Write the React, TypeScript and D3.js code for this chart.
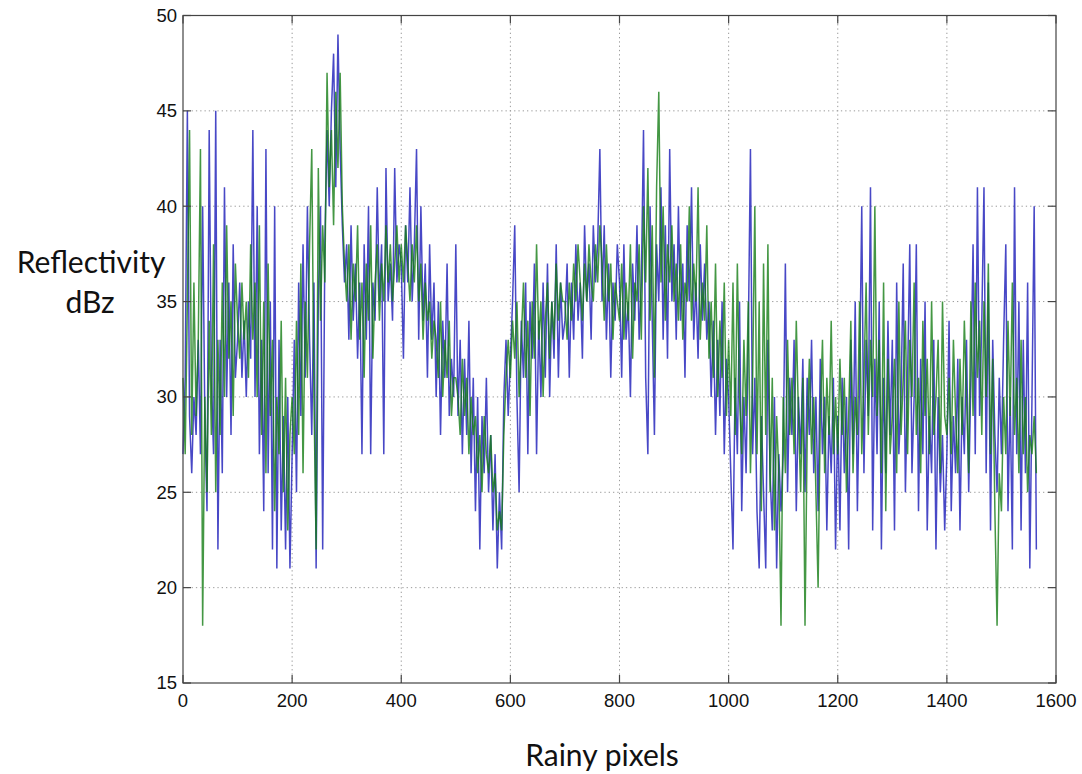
import React from 'react';
import * as d3 from 'd3';

// reflectivity samples, one every 4 rainy pixels (0, 4, 8, ... 1564)
const blueDbz = [
  27, 31, 45, 29, 26, 30, 28, 33, 27, 40, 29, 24, 44, 31, 27, 45, 22, 33, 26, 41, 30, 36, 28, 38, 31,
  33, 36, 31, 34, 30, 35, 32, 44, 30, 40, 27, 33, 24, 43, 26, 35, 22, 40, 21, 33, 23, 29, 22, 30, 21,
  27, 33, 25, 36, 29, 38, 31, 40, 33, 28, 36, 21, 35, 40, 22, 38, 44, 40, 45, 48, 41, 49, 43, 39, 36,
  38, 33, 39, 34, 37, 32, 36, 27, 38, 33, 40, 27, 36, 34, 41, 35, 38, 27, 42, 35, 37, 34, 42, 36, 38,
  37, 32, 39, 36, 41, 35, 38, 43, 33, 40, 34, 37, 31, 38, 33, 36, 30, 35, 28, 34, 31, 37, 29, 32, 30,
  38, 29, 33, 27, 32, 28, 34, 26, 31, 24, 30, 22, 29, 26, 31, 25, 28, 23, 27, 21, 25, 22, 30, 33, 29,
  32, 35, 39, 30, 25, 34, 31, 36, 27, 35, 32, 37, 27, 34, 30, 36, 31, 37, 30, 35, 32, 38, 31, 36, 33,
  34, 37, 31, 36, 33, 38, 34, 36, 32, 39, 35, 37, 33, 39, 36, 38, 43, 35, 39, 33, 37, 31, 36, 34, 38,
  36, 31, 38, 33, 35, 30, 37, 34, 39, 33, 36, 44, 31, 27, 40, 34, 28, 38, 35, 41, 33, 39, 32, 43, 35,
  38, 33, 40, 34, 37, 31, 39, 35, 41, 33, 36, 32, 38, 34, 37, 33, 35, 30, 34, 28, 33, 29, 35, 27, 32,
  30, 26, 22, 31, 27, 35, 24, 30, 26, 33, 43, 27, 31, 24, 21, 29, 25, 21, 33, 26, 23, 30, 21, 27, 24,
  27, 37, 25, 31, 28, 33, 24, 30, 27, 32, 25, 31, 28, 33, 26, 30, 24, 32, 27, 30, 23, 29, 26, 31, 22,
  29, 23, 31, 26, 30, 22, 33, 27, 35, 24, 31, 40, 26, 33, 29, 41, 23, 32, 27, 35, 22, 31, 26, 34, 28,
  33, 23, 36, 27, 30, 37, 25, 31, 38, 26, 30, 38, 24, 32, 27, 35, 23, 29, 26, 33, 22, 30, 25, 28, 23,
  27, 34, 24, 29, 26, 32, 23, 30, 27, 33, 25, 31, 38, 27, 41, 29, 34, 41, 26, 36, 23, 33, 28, 25, 31,
  27, 33, 38, 24, 30, 22, 41, 27, 35, 23, 33, 26, 36, 21, 30, 40, 22,
];

const greenDbz = [
  31, 27, 35, 44, 28, 36, 29, 33, 43, 18, 30, 25, 34, 28, 38, 25, 33, 28, 36, 30, 39, 32, 35, 29, 37,
  34, 32, 36, 33, 35, 31, 38, 33, 36, 30, 39, 28, 35, 26, 37, 29, 33, 24, 30, 27, 34, 25, 31, 23, 28,
  30, 27, 34, 28, 37, 26, 35, 31, 38, 43, 30, 22, 42, 34, 39, 36, 47, 41, 44, 39, 46, 42, 47, 40, 37,
  35, 38, 33, 37, 35, 39, 33, 36, 31, 37, 34, 39, 32, 36, 38, 34, 37, 35, 39, 36, 38, 35, 37, 39, 36,
  38, 36, 39, 37, 35, 38, 36, 39, 35, 37, 33, 36, 34, 35, 32, 34, 33, 31, 35, 30, 33, 31, 34, 29, 31,
  31, 30, 28, 32, 29, 31, 27, 30, 28, 29, 26, 28, 25, 29, 27, 26, 28, 25, 26, 23, 24, 23, 28, 31, 33,
  31, 34, 32, 35, 30, 33, 36, 31, 34, 29, 35, 32, 38, 33, 35, 30, 34, 36, 32, 35, 33, 37, 34, 36, 35,
  35, 33, 36, 34, 37, 35, 38, 36, 34, 37, 35, 38, 36, 35, 38, 36, 39, 37, 34, 38, 35, 37, 33, 36, 35,
  34, 37, 33, 36, 34, 38, 32, 36, 35, 38, 33, 40, 36, 42, 34, 39, 31, 41, 46, 36, 40, 34, 38, 36, 39,
  35, 37, 34, 38, 33, 36, 35, 40, 34, 37, 35, 41, 33, 36, 34, 39, 32, 35, 31, 37, 30, 34, 31, 36, 29,
  33, 29, 36, 28, 37, 30, 27, 33, 29, 35, 26, 31, 40, 27, 35, 24, 37, 28, 38, 25, 31, 23, 29, 26, 18,
  30, 26, 33, 28, 31, 27, 34, 29, 25, 31, 18, 28, 32, 27, 30, 25, 20, 29, 33, 26, 31, 28, 34, 27, 30,
  27, 32, 28, 31, 25, 29, 34, 26, 30, 28, 35, 27, 31, 36, 28, 33, 30, 40, 29, 33, 26, 36, 24, 32, 27,
  29, 32, 26, 35, 28, 31, 34, 27, 33, 30, 36, 28, 31, 26, 34, 29, 32, 27, 35, 28, 30, 33, 26, 35, 29,
  28, 31, 27, 33, 29, 26, 32, 28, 34, 30, 26, 35, 29, 36, 31, 34, 28, 35, 30, 37, 27, 32, 24, 18, 26,
  24, 30, 27, 34, 29, 36, 28, 31, 26, 33, 27, 30, 25, 28, 27, 29, 26,
];

const pixelStep = 4;
const xTicks = [0, 200, 400, 600, 800, 1000, 1200, 1400, 1600];
const yTicks = [15, 20, 25, 30, 35, 40, 45, 50];

const left = 183;
const right = 1056;
const top = 15.5;
const bottom = 683;

export default function App() {
  const x = d3.scaleLinear().domain([0, 1600]).range([left, right]);
  const y = d3.scaleLinear().domain([15, 50]).range([bottom, top]);

  const line = d3.line<number>()
    .x((_, i) => x(i * pixelStep))
    .y(d => y(d));

  const tickLen = 8;
  const axisColor = '#444';
  const tickFont = '"Liberation Sans", Arial, sans-serif';
  const titleFont = 'Lato, "Open Sans", sans-serif';

  return (
    <svg width={1082} height={774} style={{ display: 'block', position: 'absolute', left: 0, top: 0 }}>
      <rect width={1082} height={774} fill="#fff" />

      {/* grid */}
      <g stroke="#9a9a9a" strokeWidth={1} strokeDasharray="1.3,3">
        {xTicks.slice(1, -1).map(t => (
          <line key={'gx' + t} x1={x(t)} x2={x(t)} y1={top} y2={bottom} />
        ))}
        {yTicks.slice(1, -1).map(t => (
          <line key={'gy' + t} x1={left} x2={right} y1={y(t)} y2={y(t)} />
        ))}
      </g>

      {/* series */}
      <path d={line(blueDbz) ?? ''} fill="none" stroke="#1a1ab8" strokeWidth={1.5} strokeOpacity={0.8} strokeLinejoin="bevel" />
      <path d={line(greenDbz) ?? ''} fill="none" stroke="#157d15" strokeWidth={1.5} strokeOpacity={0.8} strokeLinejoin="bevel" />

      {/* frame and ticks */}
      <rect x={left} y={top} width={right - left} height={bottom - top} fill="none" stroke={axisColor} strokeWidth={1.2} />
      <g stroke={axisColor} strokeWidth={1.2}>
        {xTicks.map(t => (
          <g key={'tx' + t}>
            <line x1={x(t)} x2={x(t)} y1={bottom} y2={bottom - tickLen} />
            <line x1={x(t)} x2={x(t)} y1={top} y2={top + tickLen} />
          </g>
        ))}
        {yTicks.map(t => (
          <g key={'ty' + t}>
            <line x1={left} x2={left + tickLen} y1={y(t)} y2={y(t)} />
            <line x1={right} x2={right - tickLen} y1={y(t)} y2={y(t)} />
          </g>
        ))}
      </g>

      {/* tick labels */}
      <g fontFamily={tickFont} fontSize={18.5} fill="#111">
        {xTicks.map(t => (
          <text key={'lx' + t} x={x(t)} y={707} textAnchor="middle">{t}</text>
        ))}
        {yTicks.map(t => (
          <text key={'ly' + t} x={177} y={y(t)} dy="0.35em" textAnchor="end">{t}</text>
        ))}
      </g>

      {/* axis titles */}
      <g fontFamily={titleFont} fontSize={30} fill="#111" textAnchor="middle">
        <text x={91} y={273}>Reflectivity</text>
        <text x={90} y={313}>dBz</text>
        <text x={602} y={766}>Rainy pixels</text>
      </g>
    </svg>
  );
}
